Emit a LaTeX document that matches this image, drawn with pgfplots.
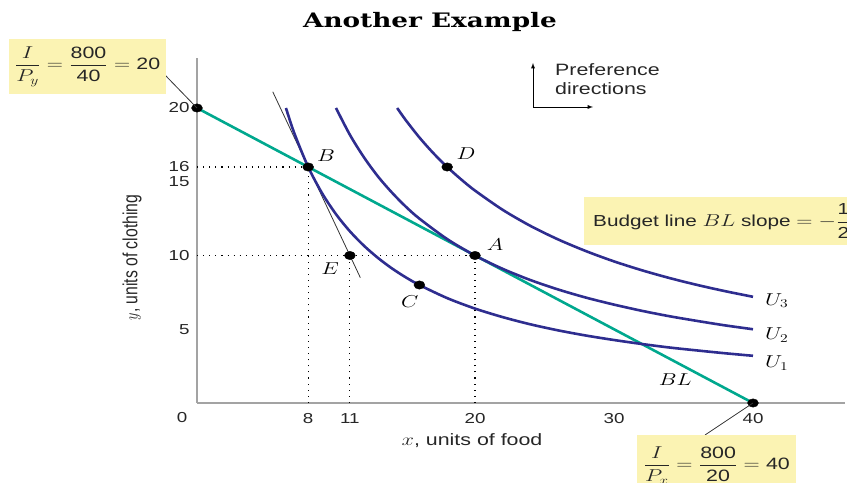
\documentclass[border=0pt]{standalone}
\usepackage{amsmath}
\usepackage{fontspec}
\setmainfont{Liberation Sans}
\newfontfamily\titlefont{DejaVu Serif}
\usepackage{pgfplots}
\pgfplotsset{compat=1.18}

\definecolor{icurve}{HTML}{2E2D8F}
\definecolor{budget}{HTML}{00A88E}
\definecolor{boxfill}{HTML}{FBF3B3}
\definecolor{axisgray}{HTML}{A3A3A3}

% the source figure is stretched sideways, so text is widened to match
\newcommand{\w}[1]{\scalebox{1.3}[1]{#1}}
\newcommand{\lbl}{\fontsize{16.5}{19}\selectfont}

\begin{document}
\begin{tikzpicture}[x=1bp,y=1bp]
\useasboundingbox (-197,-80) rectangle (650,403);
\begin{axis}[
  at={(0,0)}, anchor=south west,
  x=13.9bp, y=14.75bp,
  xmin=0, xmax=46.6, ymin=0, ymax=23.4,
  axis x line*=bottom, axis y line*=left,
  axis line style={axisgray, line width=1.5bp},
  xtick={8,11,20,30,40}, ytick={5,10,15,16,20},
  major tick length=0pt,
  tick label style={font=\fontsize{14.5}{16}\selectfont, text=black!85},
  xticklabel={\w{\pgfmathprintnumber{\tick}}},
  yticklabel={\w{\pgfmathprintnumber{\tick}}},
  xticklabel style={yshift=-7bp},
  yticklabel style={xshift=-4bp},
  /pgf/number format/assume math mode=true,
  clip=false,
]
% guide lines
\addplot[black, line width=1.1bp, dash pattern=on 1.1bp off 5bp] coordinates {(0,16) (8,16)};
\addplot[black, line width=1.1bp, dash pattern=on 1.1bp off 5bp] coordinates {(0,10) (20,10)};
\addplot[black, line width=1.1bp, dash pattern=on 1.1bp off 5bp] coordinates {(8,0) (8,16)};
\addplot[black, line width=1.1bp, dash pattern=on 1.1bp off 5bp] coordinates {(11,0) (11,10)};
\addplot[black, line width=1.1bp, dash pattern=on 1.1bp off 5bp] coordinates {(20,0) (20,10)};
% tangent at B
\addplot[black!80, line width=0.8bp] coordinates {(5.45,21.1) (11.75,8.5)};
% budget line
\addplot[budget, line width=2.6bp] coordinates {(0,20) (40,0)};
% indifference curves
\addplot[icurve, line width=2.6bp, smooth] coordinates {
  (6.4,20) (7,18.29) (8,16) (9,14.22) (10,12.8) (11,11.64) (12,10.67)
  (13,9.85) (14,9.14) (15,8.53) (16,8) (18,7.11) (20,6.4) (22,5.82)
  (24,5.33) (26,4.92) (28,4.57) (30,4.27) (32,4) (34,3.76) (36,3.56)
  (38,3.37) (40,3.2)};
\addplot[icurve, line width=2.6bp, smooth] coordinates {
  (10,20) (11,18.18) (12,16.67) (13,15.38) (14,14.29) (15,13.33) (16,12.5)
  (18,11.11) (20,10) (22,9.09) (24,8.33) (26,7.69) (28,7.14) (30,6.67)
  (32,6.25) (34,5.88) (36,5.56) (38,5.26) (40,5)};
\addplot[icurve, line width=2.6bp, smooth] coordinates {
  (14.4,20) (15,19.2) (16,18) (17,16.94) (18,16) (19,15.16) (20,14.4)
  (22,13.09) (24,12) (26,11.08) (28,10.29) (30,9.6) (32,9) (34,8.47)
  (36,8) (38,7.58) (40,7.2)};
% bundles
\addplot[only marks, mark=*, mark size=4.2bp, mark options={xscale=1.3}, black] coordinates {
  (0,20) (8,16) (18,16) (11,10) (20,10) (16,8) (40,0)};
% point labels
\node[font=\lbl] at (axis cs:9.28,16.75) {\w{$B$}};
\node[font=\lbl] at (axis cs:19.35,16.88) {\w{$D$}};
\node[font=\lbl] at (axis cs:21.44,10.71) {\w{$A$}};
\node[font=\lbl] at (axis cs:9.57,9.08) {\w{$E$}};
\node[font=\lbl] at (axis cs:15.3,6.85) {\w{$C$}};
\node[font=\lbl, anchor=base west, inner sep=0pt] at (axis cs:40.86,6.64) {\w{$U_3$}};
\node[font=\lbl, anchor=base west, inner sep=0pt] at (axis cs:40.86,4.28) {\w{$U_2$}};
\node[font=\lbl, anchor=base west, inner sep=0pt] at (axis cs:40.86,2.40) {\w{$U_1$}};
\node[font=\lbl] at (axis cs:34.4,1.56) {\w{$BL$}};
\end{axis}

% title
\node[font=\titlefont\bfseries\fontsize{20}{24}\selectfont, anchor=base] at (233,375.5)
  {\scalebox{1.32}[1]{Another Example}};
% origin label and axis titles
\node[font=\fontsize{14.5}{16}\selectfont, text=black!85] at (-15,-15) {\w{0}};
\node[font=\lbl, text=black!85] at (275,-38) {\w{$x$, units of food}};
\node[font=\fontsize{15.8}{18}\selectfont, text=black!85] at (-65,145.5)
  {\w{\rotatebox{90}{$y$, units of clothing}}};
% preference directions
\draw[black, line width=0.9bp, -latex] (336,296) -- (336,340);
\draw[black, line width=0.9bp, -latex] (336,296) -- (396,296);
\node[font=\lbl, anchor=north west, align=left, inner sep=0pt, text=black!85] at (358,340)
  {\w{Preference}\\\w{directions}};
% intercept boxes
\draw[black!80, line width=0.8bp] (-32,328) -- (0,295);
\node[fill=boxfill, minimum width=157bp, minimum height=55bp, inner sep=1bp, font=\lbl, text=black!85]
  at (-109.5,336.5) {\w{$\dfrac{I}{P_y}=\dfrac{\mbox{800}}{\mbox{40}}=\mbox{20}$}};
\draw[black!80, line width=0.8bp] (508,-32) -- (556,0);
\node[fill=boxfill, anchor=north west, minimum width=159bp, minimum height=60bp, inner sep=1bp, font=\lbl, text=black!85]
  at (440,-32) {\w{$\dfrac{I}{P_x}=\dfrac{\mbox{800}}{\mbox{20}}=\mbox{40}$}};
% slope box
\node[fill=boxfill, anchor=west, minimum height=48bp, inner xsep=9bp, font=\fontsize{16}{18}\selectfont, text=black!85]
  at (387,182) {\w{Budget line $BL$ slope $=-\dfrac{\mbox{1}}{\mbox{2}}$}\hspace{10bp}};
\end{tikzpicture}
\end{document}
